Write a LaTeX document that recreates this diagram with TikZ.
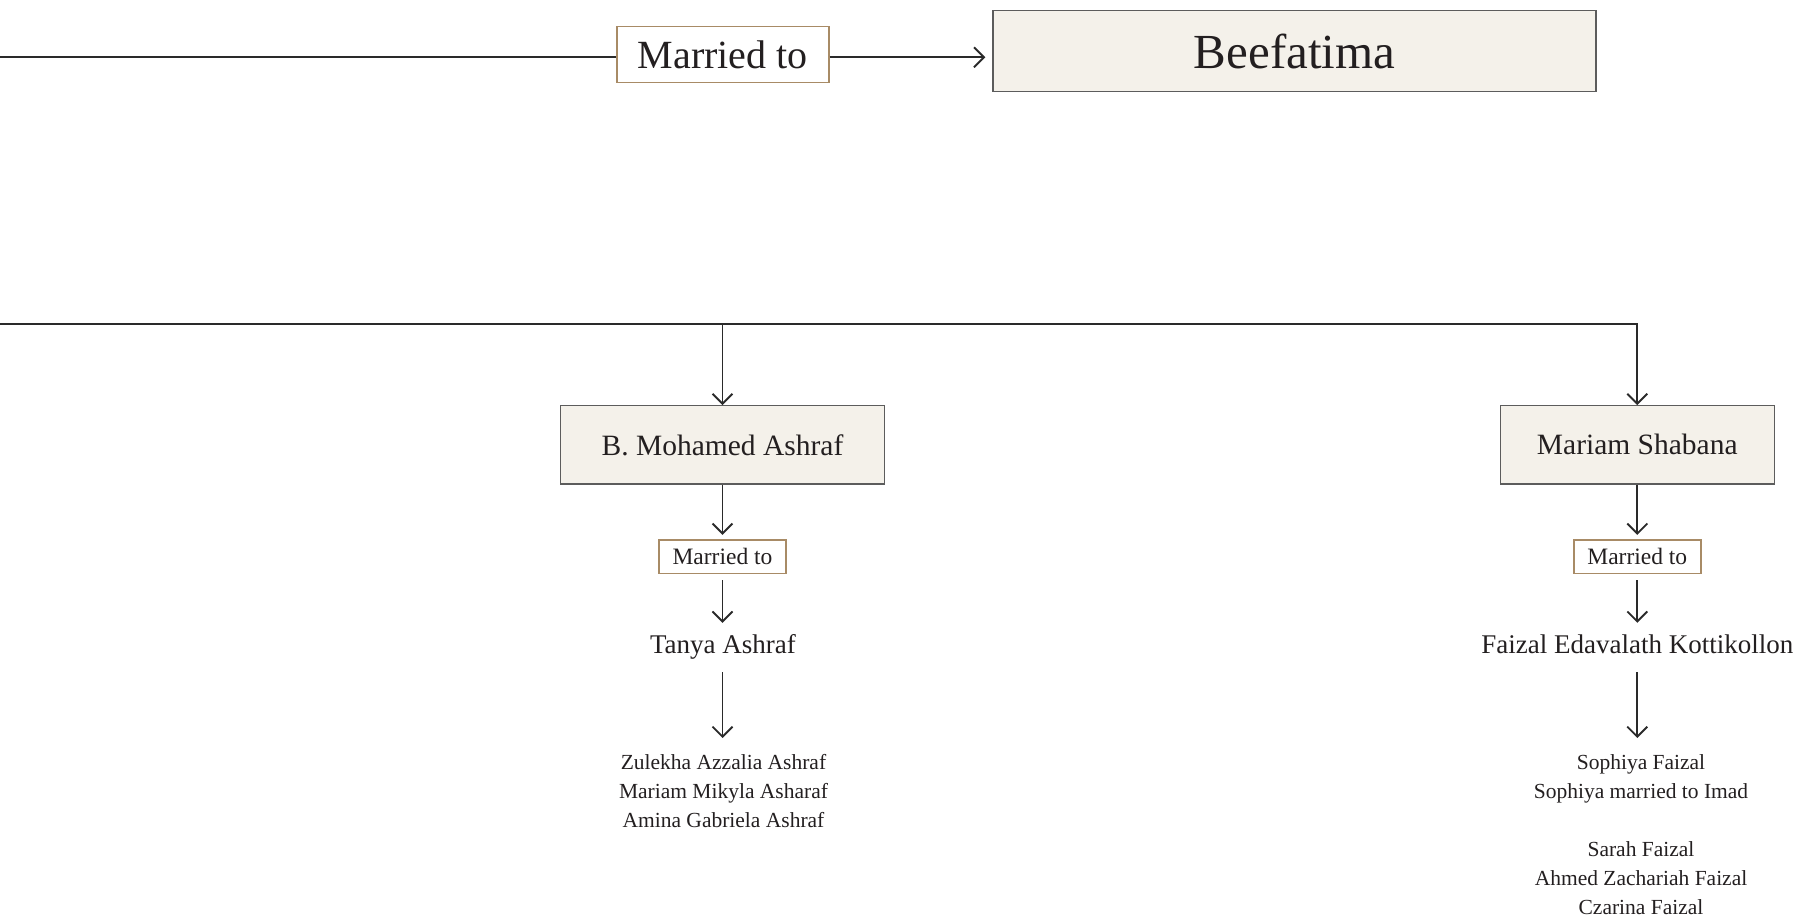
\documentclass[tikz,border=0pt]{standalone}
\usepackage{fontspec}
\setmainfont{Liberation Serif}
\usetikzlibrary{arrows.meta}
\definecolor{ink}{HTML}{231F20}
\definecolor{boxfill}{HTML}{F4F1EA}
\definecolor{boxline}{HTML}{5C5C5C}
\definecolor{tanline}{HTML}{A88B66}
\definecolor{wire}{HTML}{2A2A2A}
\begin{document}
\begin{tikzpicture}[x=1pt,y=-1pt,
 person/.style={draw=boxline, line width=1.3pt, fill=boxfill, text=ink, inner sep=0pt},
 marriage/.style={draw=tanline, line width=1.6pt, fill=white, text=ink, inner sep=0pt},
 namelabel/.style={text=ink, inner sep=0pt, anchor=base, text height=19pt, text depth=6pt, font=\fontsize{27}{32}\selectfont},
 kids/.style={text=ink, inner sep=0pt, align=center, anchor=north, font=\fontsize{21.5}{29}\selectfont},
 link/.style={draw=wire, line width=1.9pt},
 arr/.style={link, -{Straight Barb[length=10pt,width=20pt]}}
]
\useasboundingbox (0,0) rectangle (1800,923);

% top row
\node[marriage, minimum width=212pt, minimum height=56pt, font=\fontsize{40}{48}\selectfont] (mt0) at (722.8,54.7) {Married to};
\node[person, minimum width=603pt, minimum height=81pt, font=\fontsize{49}{58}\selectfont] (bee) at (1294.5,51.2) {Beefatima};
\coordinate (topline) at (0,57.3);
\draw[link] (topline) -- (mt0.west |- topline);
\draw[arr, shorten >=7pt] (mt0.east |- topline) -- (bee.west |- topline);

% children row
\coordinate (hl) at (0,324.3);
\node[person, minimum width=323.6pt, minimum height=78.3pt, font=\fontsize{29.5}{35}\selectfont] (ashraf) at (722.5,444.9) {B. Mohamed Ashraf};
\node[person, minimum width=274pt, minimum height=78.3pt, font=\fontsize{29.5}{35}\selectfont] (shabana) at (1637.3,444.9) {Mariam Shabana};
\draw[arr] (hl) -- (hl -| shabana.north) -- (shabana.north);
\draw[arr] (hl -| ashraf.north) -- (ashraf.north);

% marriages
\node[marriage, minimum width=127pt, minimum height=33.6pt, font=\fontsize{23.5}{28}\selectfont] (mt1) at (722.5,556.5) {Married to};
\node[marriage, minimum width=127pt, minimum height=33.6pt, font=\fontsize{23.5}{28}\selectfont] (mt2) at (1637.3,556.5) {Married to};
\draw[arr, shorten >=4pt] (ashraf.south) -- (mt1.north);
\draw[arr, shorten >=4pt] (shabana.south) -- (mt2.north);

% spouses
\node[namelabel] (tanya) at (723,653) {Tanya Ashraf};
\node[namelabel] (faizal) at (1637.3,653) {Faizal Edavalath Kottikollon};
\draw[arr, shorten <=6pt, shorten >=11pt] (mt1.south) -- (mt1.south |- tanya.north);
\draw[arr, shorten <=6pt, shorten >=11pt] (mt2.south) -- (mt2.south |- faizal.north);

% grandchildren
\node[kids] (kidsA) at (723.5,749) {\strut Zulekha Azzalia Ashraf\\Mariam Mikyla Asharaf\\Amina Gabriela Ashraf};
\node[kids] (kidsB) at (1641,749) {\strut Sophiya Faizal\\Sophiya married to Imad\\[29pt]Sarah Faizal\\Ahmed Zachariah Faizal\\Czarina Faizal};
\draw[arr, shorten <=13pt, shorten >=11pt] (mt1.south |- tanya.south) -- (mt1.south |- kidsA.north);
\draw[arr, shorten <=13pt, shorten >=11pt] (mt2.south |- faizal.south) -- (mt2.south |- kidsB.north);
\end{tikzpicture}
\end{document}
